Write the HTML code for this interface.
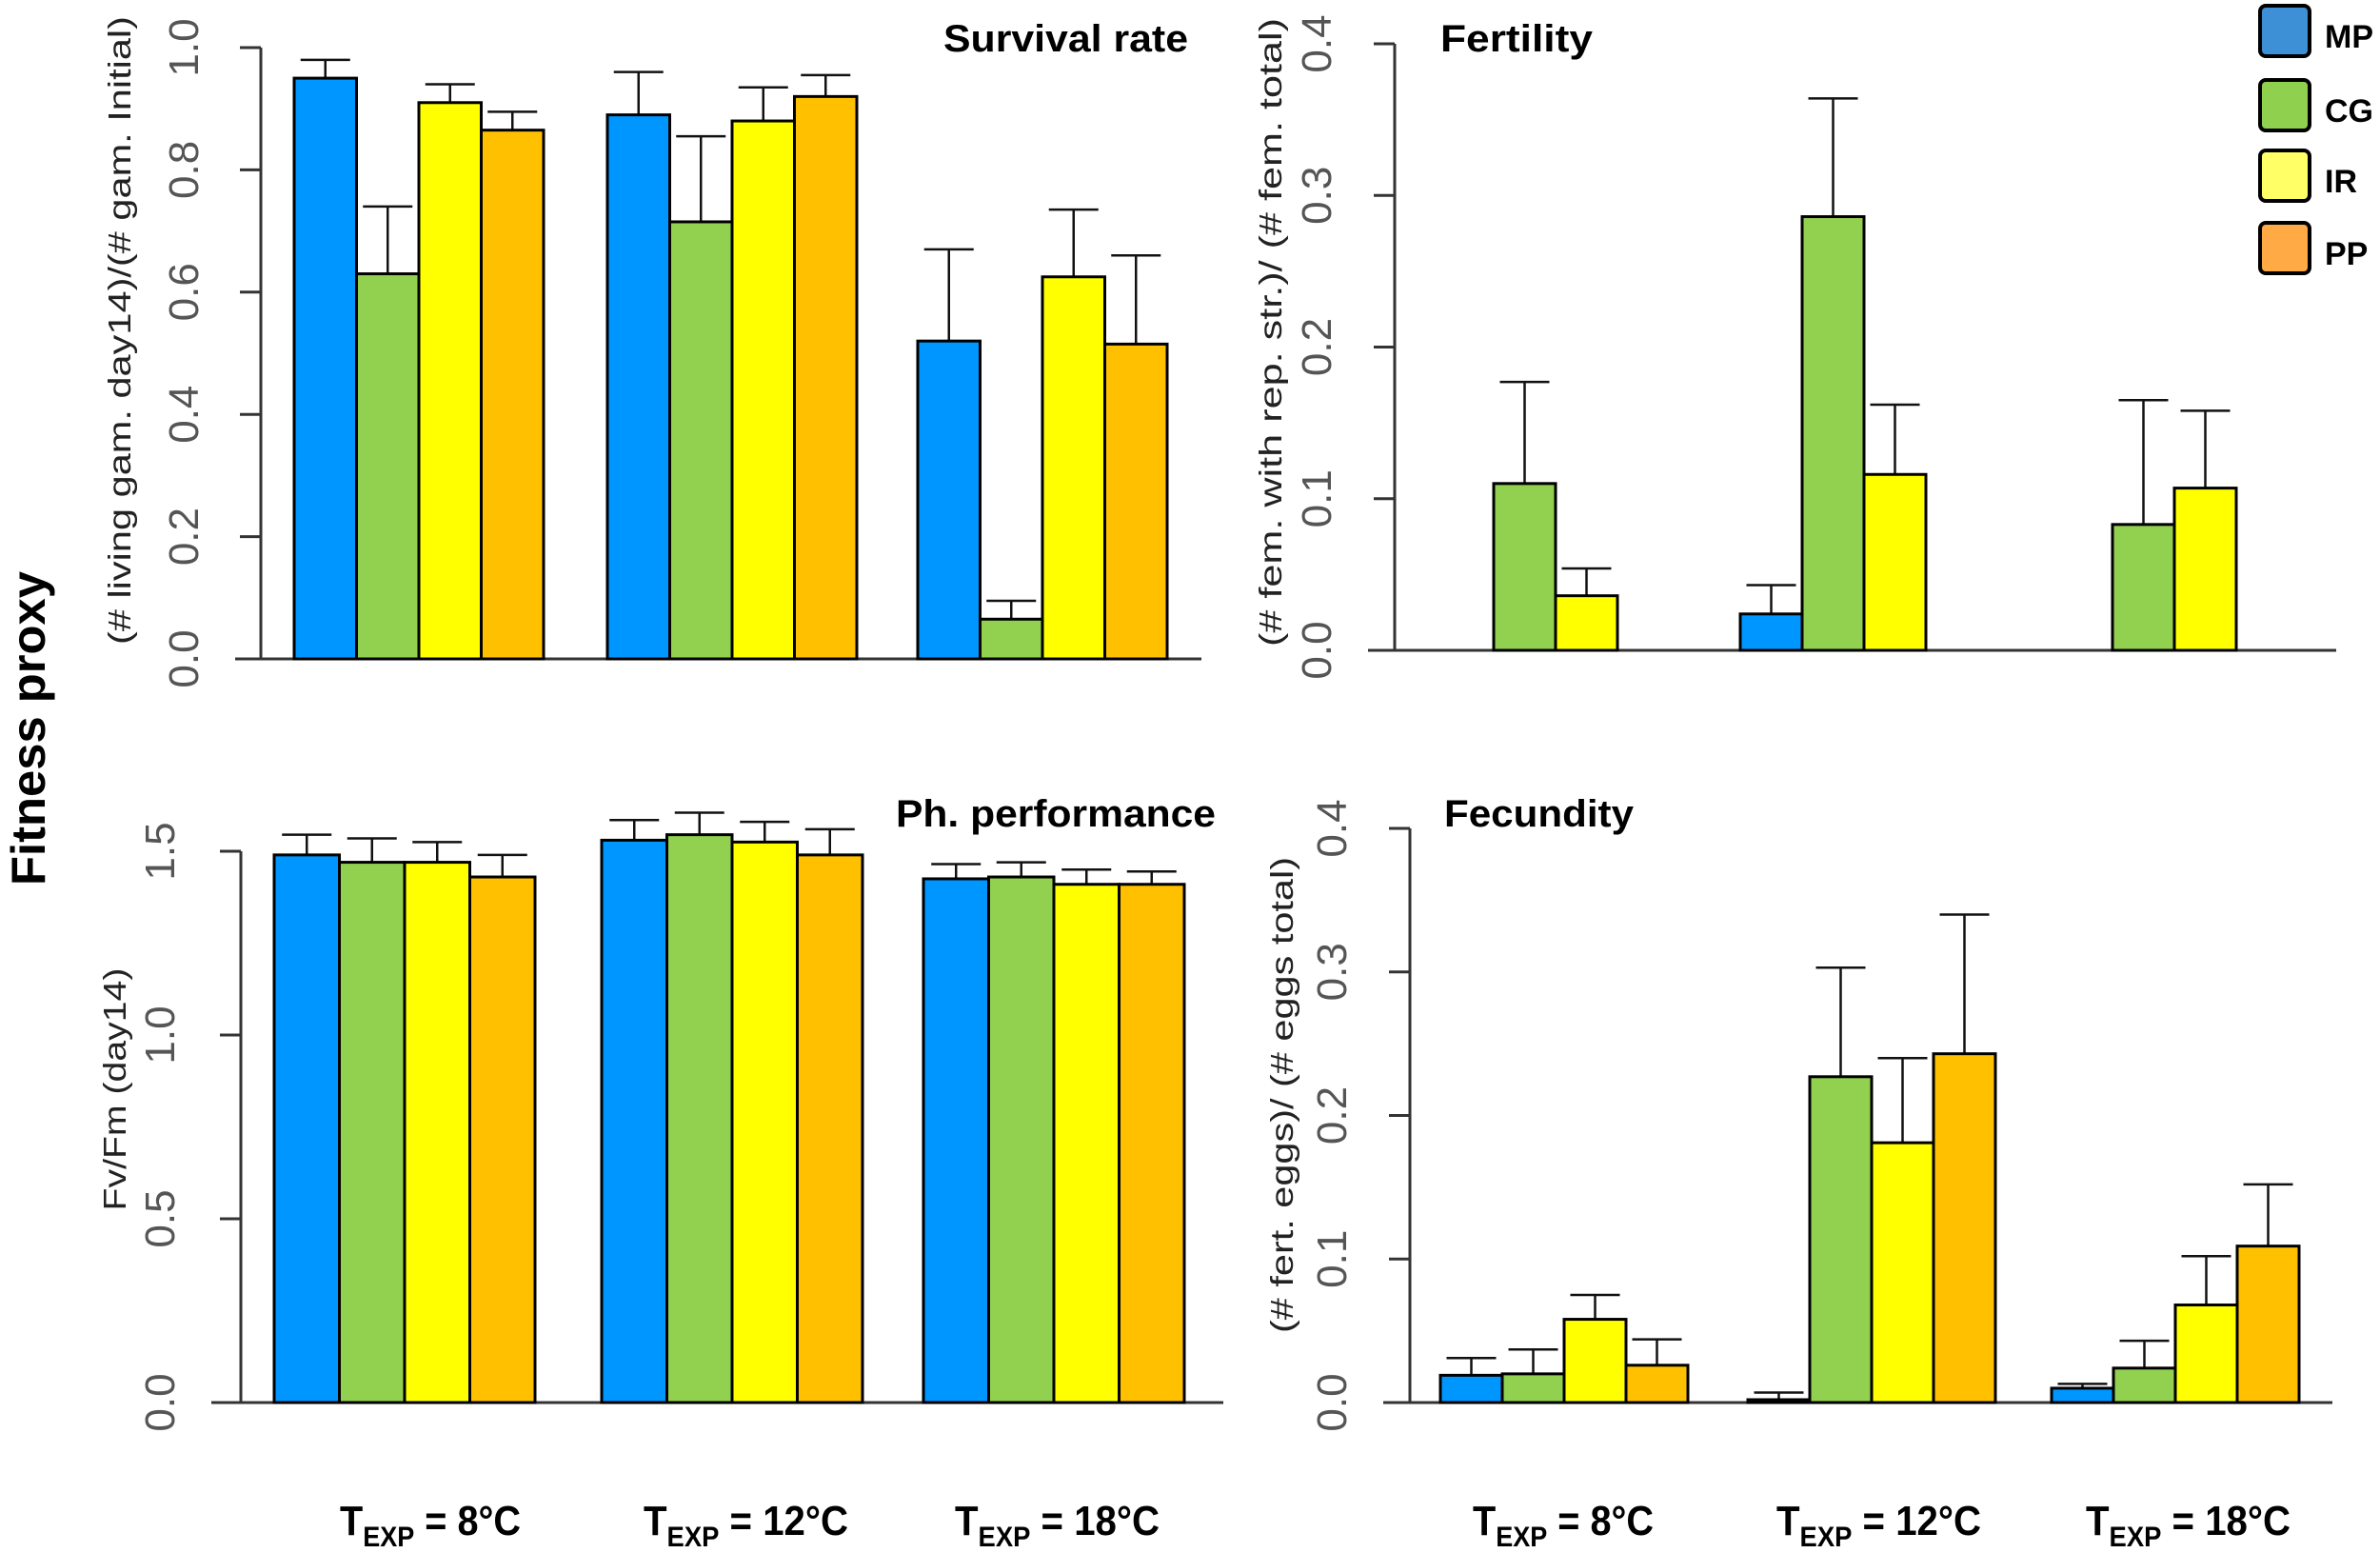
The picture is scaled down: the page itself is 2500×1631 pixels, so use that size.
<!DOCTYPE html>
<html><head><meta charset="utf-8"><style>
html,body{margin:0;padding:0;background:#fff;}
svg{display:block;}
text{font-family:"Liberation Sans",sans-serif;}
.tick{fill:#555;font-size:44px;}
.ttl{font-weight:bold;font-size:40px;fill:#000;}
.ylab{fill:#222;font-size:33px;}
.xl{font-weight:bold;font-size:44px;fill:#000;}
</style></head><body>
<svg id="chart" width="2500" height="1631" viewBox="0 0 2500 1631" xmlns="http://www.w3.org/2000/svg">
<text transform="translate(47,765) rotate(-90)" text-anchor="middle" font-weight="bold" font-size="50" fill="#000" textLength="330" lengthAdjust="spacingAndGlyphs">Fitness proxy</text>
<g id="legend"></g>
</svg>
<script>
const svgNS="http://www.w3.org/2000/svg";
const svg=document.getElementById('chart');
const groups=["TEXP = 8°C","TEXP = 12°C","TEXP = 18°C"];
const seriesNames=["MP","CG","IR","PP"];
const colors=["#0096ff","#92d050","#ffff00","#ffc000"];
const legendColors=["#3d8fd6","#8fd14f","#ffff66","#ffaa44"];

// Survival rate
const survMean=[[0.95,0.63,0.91,0.865],[0.89,0.715,0.88,0.92],[0.52,0.065,0.625,0.515]];
const survUpper=[[0.98,0.74,0.94,0.895],[0.96,0.855,0.935,0.955],[0.67,0.095,0.735,0.66]];
const survTicks=["0.0","0.2","0.4","0.6","0.8","1.0"];
// Fertility (null = no bar)
const fertMean=[[null,0.11,0.036,null],[0.024,0.286,0.116,null],[null,0.083,0.107,null]];
const fertUpper=[[null,0.177,0.054,null],[0.043,0.364,0.162,null],[null,0.165,0.158,null]];
const fertTicks=["0.0","0.1","0.2","0.3","0.4"];
// Ph. performance
const phMean=[[1.49,1.47,1.47,1.43],[1.53,1.545,1.525,1.49],[1.425,1.43,1.41,1.41]];
const phUpper=[[1.545,1.535,1.525,1.49],[1.585,1.605,1.58,1.56],[1.465,1.47,1.45,1.445]];
const phTicks=["0.0","0.5","1.0","1.5"];
// Fecundity
const fecMean=[[0.019,0.02,0.058,0.026],[0.002,0.227,0.181,0.243],[0.01,0.024,0.068,0.109]];
const fecUpper=[[0.031,0.037,0.075,0.044],[0.007,0.303,0.24,0.34],[0.013,0.043,0.102,0.152]];
const fecTicks=["0.0","0.1","0.2","0.3","0.4"];

function mk(tag,attrs,parent){const e=document.createElementNS(svgNS,tag);for(const k in attrs)e.setAttribute(k,attrs[k]);(parent||svg).appendChild(e);return e;}

function panel(p){
  const g=mk('g',{});
  
  
  const y=v=>p.y0-(v-p.vmin)/(p.vmax-p.vmin)*(p.y0-p.y1);
  const ticks=p.ticks.map(Number);
  const ax=mk('line',{x1:p.ax,x2:p.ax,y1:y(ticks[0]),y2:y(ticks[ticks.length-1]),stroke:'#333','stroke-width':3},g);
  
  
  p.ticks.forEach(t=>{
    const v=Number(t);
    mk('line',{x1:p.ax-22,x2:p.ax,y1:y(v),y2:y(v),stroke:'#333','stroke-width':3},g);
    const tx=mk('text',{class:'tick','text-anchor':'middle',transform:`translate(${p.tx},${y(v)}) rotate(-90)`},g);
    tx.textContent=t;
    
    
  });
  const base=mk('line',{x1:p.bx1,x2:p.bx2,y1:p.y0,y2:p.y0,stroke:'#333','stroke-width':3},g);
  
  
  p.mean.forEach((grp,gi)=>{
    grp.forEach((v,si)=>{
      if(v===null)return;
      const x=p.gx[gi]+si*p.bw;
      const up=p.upper[gi][si];
      const cx=x+p.bw/2;
      const e=mk('line',{x1:cx,x2:cx,y1:y(up),y2:y(v),stroke:'#111','stroke-width':2.5},g);
      
      
      mk('line',{x1:cx-26,x2:cx+26,y1:y(up),y2:y(up),stroke:'#111','stroke-width':2.5},g);
      const r=mk('rect',{x:x,y:y(v),width:p.bw,height:Math.max(0,p.y0-y(v)),fill:colors[si],stroke:'#000','stroke-width':3},g);
      
      
    });
  });
  const t=mk('text',{class:'ttl',x:p.ttx,y:p.tty,textLength:p.ttw,lengthAdjust:'spacingAndGlyphs'},g);
  t.textContent=p.title;
  
  
  const yl=mk('text',{class:'ylab','text-anchor':'middle',transform:`translate(${p.ylx},${p.yly}) rotate(-90)`,textLength:p.ylw,lengthAdjust:'spacingAndGlyphs'},g);
  yl.textContent=p.ylab;
  
  
}

panel({name:'survival',mean:survMean,upper:survUpper,ticks:survTicks,vmin:0,vmax:1,y0:692,y1:50,ax:274,tx:208,bx1:247,bx2:1262,gx:[309,638,964],bw:65.5,
  title:'Survival rate',ttx:991,tty:54,ttw:257,ylab:'(# living gam. day14)/(# gam. Initial)',ylx:137,yly:347,ylw:660});
panel({name:'fertility',mean:fertMean,upper:fertUpper,ticks:fertTicks,vmin:0,vmax:0.4,y0:683,y1:46,ax:1465,tx:1398,bx1:1437,bx2:2454,gx:[1504,1828,2154],bw:65,
  title:'Fertility',ttx:1513,tty:54,ttw:160,ylab:'(# fem. with rep. str.)/ (# fem. total)',ylx:1346,yly:349,ylw:660});
panel({name:'ph-performance',mean:phMean,upper:phUpper,ticks:phTicks,vmin:0,vmax:1.5,y0:1473,y1:894,ax:253,tx:183,bx1:222,bx2:1285,gx:[288,632,970],bw:68.5,
  title:'Ph. performance',ttx:941,tty:868,ttw:336,ylab:'Fv/Fm (day14)',ylx:132,yly:1144,ylw:255});
panel({name:'fecundity',mean:fecMean,upper:fecUpper,ticks:fecTicks,vmin:0,vmax:0.4,y0:1473,y1:870,ax:1481,tx:1414,bx1:1453,bx2:2450,gx:[1513,1836,2155],bw:65,
  title:'Fecundity',ttx:1517,tty:868,ttw:199,ylab:'(# fert. eggs)/ (# eggs total)',ylx:1358,yly:1150,ylw:500});

const xlPos=[[357,676,1003],[1547,1866,2191]];
const xlW=[190,215,215];
xlPos.forEach((row,ri)=>row.forEach((x,i)=>{
  const t=mk('text',{class:'xl',x:x,y:1612,textLength:xlW[i],lengthAdjust:'spacingAndGlyphs'});
  
  
  const parts=groups[i].split(' = ');
  const a=mk('tspan',{},t);a.textContent='T';
  const b=mk('tspan',{dy:12,'font-size':30},t);b.textContent='EXP';
  const c=mk('tspan',{dy:-12},t);c.textContent=' = '+parts[1];
}));

const leg=document.getElementById('legend');
const legY=[6,84,158,234];
seriesNames.forEach((n,i)=>{
  const r=mk('rect',{x:2374,y:legY[i],width:52,height:53,rx:6,fill:legendColors[i],stroke:'#000','stroke-width':4},leg);
  
  
  const t=mk('text',{x:2442,y:legY[i]+44,'font-weight':'bold','font-size':34,fill:'#000'},leg);
  t.textContent=n;
  
  
});
</script>
</body></html>
